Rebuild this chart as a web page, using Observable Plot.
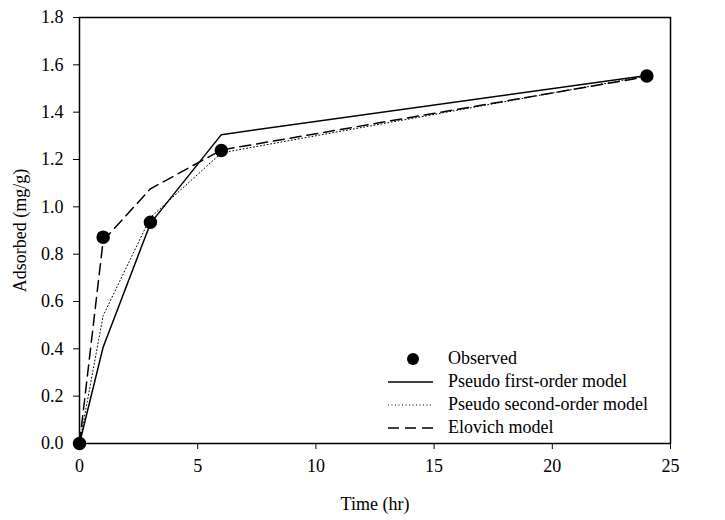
<!DOCTYPE html>
<html>
<head>
<meta charset="utf-8">
<script src="https://cdn.jsdelivr.net/npm/d3@7"></script>
<script src="https://cdn.jsdelivr.net/npm/@observablehq/plot@0.6"></script>
<style>
  body { margin: 0; background: white; }
  #wrap { position: relative; width: 725px; height: 520px; font-family: 'Liberation Serif', 'Times New Roman', serif; }
  #wrap svg text { font-family: 'Liberation Serif', 'Times New Roman', serif; }
  #legend { position: absolute; left: 385px; top: 347px; font-size: 18px; line-height: 23px; color: black; }
  #legend .row { display: flex; align-items: center; height: 23px; }
  #legend svg { width: 52px; height: 23px; margin-right: 11px; }
</style>
</head>
<body>
<div id="wrap"></div>
<script>
const time = [0, 1, 3, 6, 24];
const observed = [0, 0.872, 0.935, 1.238, 1.553];
const pseudoFirst = [0, 0.407, 0.93, 1.305, 1.555];
const pseudoSecond = [0, 0.54, 0.955, 1.228, 1.553];
const elovich = [0, 0.857, 1.076, 1.240, 1.550];
const xTicks = [0, 5, 10, 15, 20, 25];
const yTicks = [0, 0.2, 0.4, 0.6, 0.8, 1.0, 1.2, 1.4, 1.6, 1.8];
const seriesNames = ["Observed", "Pseudo first-order model", "Pseudo second-order model", "Elovich model"];

const styles = {
  "Pseudo first-order model": {strokeWidth: 1.5, dash: null},
  "Pseudo second-order model": {strokeWidth: 1, dash: "1,2.5"},
  "Elovich model": {strokeWidth: 1.5, dash: "11,6"}
};

const toRows = (vals) => time.map((t, i) => ({t, v: vals[i]}));
const obsRows = toRows(observed);
const modelRows = {
  "Pseudo first-order model": toRows(pseudoFirst),
  "Pseudo second-order model": toRows(pseudoSecond),
  "Elovich model": toRows(elovich)
};

const serif = "'Liberation Serif', 'Times New Roman', serif";

const chart = Plot.plot({
  width: 725,
  height: 520,
  marginLeft: 79,
  marginRight: 55,
  marginTop: 17,
  marginBottom: 77,
  style: {fontFamily: serif, fontSize: "18px", background: "white", color: "black"},
  x: {domain: [0, 25]},
  y: {domain: [0, 1.8]},
  marks: [
    Plot.axisX({ticks: xTicks, tickSize: 6, tickPadding: 10, fontSize: 18, fontFamily: serif, label: "Time (hr)", labelAnchor: "center", labelArrow: "none", labelOffset: 66}),
    Plot.axisY({ticks: yTicks, tickSize: 6, tickPadding: 10, fontSize: 18, fontFamily: serif, tickFormat: d => d.toFixed(1), label: "Adsorbed (mg/g)", labelAnchor: "center", labelArrow: "none", labelOffset: 66}),
    ...Object.entries(modelRows).map(([name, rows]) =>
      Plot.line(rows, {x: "t", y: "v", stroke: "black", strokeWidth: styles[name].strokeWidth, strokeDasharray: styles[name].dash})
    ),
    Plot.dot(obsRows, {x: "t", y: "v", r: 6, fill: "black", stroke: "black"}),
    Plot.frame({stroke: "black", strokeWidth: 1.5})
  ]
});
document.getElementById("wrap").appendChild(chart);

// legend overlay
const legend = document.createElement("div");
legend.id = "legend";
seriesNames.forEach(name => {
  const row = document.createElement("div");
  row.className = "row";
  let sample;
  if (name === "Observed") {
    sample = `<svg><circle cx="28" cy="12" r="6" fill="black"/></svg>`;
  } else {
    const s = styles[name];
    sample = `<svg><line x1="3" x2="48" y1="12" y2="12" stroke="black" stroke-width="${s.strokeWidth}" ${s.dash ? `stroke-dasharray="${s.dash}"` : ""}/></svg>`;
  }
  row.innerHTML = sample + `<span>${name}</span>`;
  legend.appendChild(row);
});
document.getElementById("wrap").appendChild(legend);
</script>
</body>
</html>
